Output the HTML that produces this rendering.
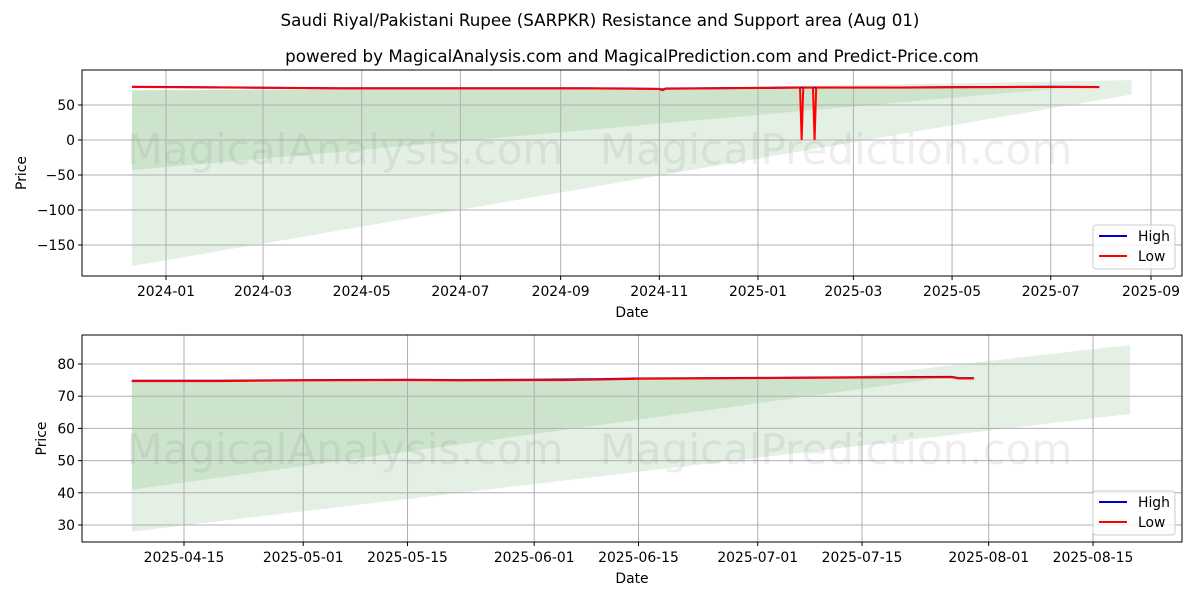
<!DOCTYPE html>
<html><head><meta charset="utf-8"><style>
body{margin:0;background:#fff;}
svg{display:block;font-family:"DejaVu Sans","Liberation Sans",sans-serif;}
</style></head><body>
<svg id="c" width="1200" height="600" xmlns="http://www.w3.org/2000/svg"></svg>
<script>
// ---- top chart data ----
const topDates=["2023-12-11","2024-01-15","2024-02-15","2024-03-15","2024-04-15","2024-05-15","2024-06-15","2024-07-15","2024-08-15","2024-09-15","2024-10-15","2024-11-01","2024-11-03","2024-11-05","2024-12-01","2025-01-01","2025-01-26","2025-01-27","2025-01-28","2025-01-29","2025-02-03","2025-02-04","2025-02-05","2025-02-06","2025-03-01","2025-04-01","2025-05-01","2025-06-01","2025-07-01","2025-07-31"];
const topHigh=[76,75.5,75,74.5,74,74,74,74,74,74,73.5,73,72,73.5,74,74.5,75,75,75,75,75,75,75,75,75,75,75.5,75.8,76,75.8];
const topLow=[75.8,75.3,74.8,74.3,73.8,73.8,73.8,73.8,73.8,73.8,73.3,72.8,71,73.3,73.8,74.3,74.8,74.8,0,74.8,74.8,74.8,0,74.8,74.8,74.8,75.3,75.6,75.8,75.6];
const topBandDates=["2023-12-11","2025-08-20"];
const topBandAUpper=[60,85.5];
const topBandALower=[-180,65];
const topBandBDates=["2023-12-11","2025-07-15"];
const topBandBUpper=[71,76];
const topBandBLower=[-43,75.5];
const topYTicks=[50,0,-50,-100,-150];
const topXTicks=["2024-01","2024-03","2024-05","2024-07","2024-09","2024-11","2025-01","2025-03","2025-05","2025-07","2025-09"];
// ---- bottom chart data ----
const botDates=["2025-04-08","2025-04-20","2025-05-01","2025-05-15","2025-05-22","2025-06-01","2025-06-05","2025-06-10","2025-06-15","2025-07-01","2025-07-15","2025-07-27","2025-07-28","2025-07-30"];
const botHigh=[74.8,74.8,75,75.1,75,75.1,75.2,75.3,75.5,75.7,75.9,76,75.6,75.6];
const botLow=[74.7,74.7,74.9,75,74.9,75,75,75.2,75.4,75.6,75.8,75.9,75.5,75.5];
const botBandDates=["2025-04-08","2025-08-20"];
const botBandAUpper=[50.6,85.9];
const botBandALower=[28,64.5];
const botBandBDates=["2025-04-08","2025-07-26"];
const botBandBUpper=[75,76];
const botBandBLower=[41,75.8];
const botYTicks=[80,70,60,50,40,30];
const botXTicks=["2025-04-15","2025-05-01","2025-05-15","2025-06-01","2025-06-15","2025-07-01","2025-07-15","2025-08-01","2025-08-15"];

const NS="http://www.w3.org/2000/svg";
const svg=document.getElementById('c');
function mk(tag,attrs,parent){const e=document.createElementNS(NS,tag);for(const k in attrs)e.setAttribute(k,attrs[k]);(parent||svg).appendChild(e);return e;}
function day(s){if(s.length===7)s+="-01";return Date.UTC(+s.slice(0,4),+s.slice(5,7)-1,+s.slice(8,10))/864e5;}

function txt(x,y,s,size,anchor,name,extra){const t=mk('text',Object.assign({x:x,y:y,'font-size':size,'text-anchor':anchor||'middle',fill:'#000'},extra||{}));t.textContent=s;


return t;}

function panel(o){
 const {L,R,T,B,d0,x0,ppd,v0,y0,ppu}=o;
 const X=d=>x0+(day(d)-day(d0))*ppd;
 const Y=v=>y0-(v-v0)*ppu;
 const g=mk('g',{});
 
 
 function band(ds,up,lo,col,nm){
  const pts=ds.map((d,i)=>X(d)+','+Y(up[i])).concat(ds.slice().reverse().map((d,i)=>X(d)+','+Y(lo[lo.length-1-i])));
  const p=mk('polygon',{points:pts.join(' '),fill:col},g);
  
  
 }
 band(o.bAd,o.bAu,o.bAl,'#e3f0e3','support-band-wide');
 band(o.bBd,o.bBu,o.bBl,'#cce4cc','support-band-narrow');
 o.xt.forEach(t=>{const x=X(t);
  const l=mk('line',{x1:x,x2:x,y1:T,y2:B,stroke:'#b0b0b0','stroke-width':1},g);
  
  
  mk('line',{x1:x,x2:x,y1:B,y2:B+4,stroke:'#000'},g);
  txt(x,B+20,t,13.9,'middle','x-tick-label');});
 o.yt.forEach(v=>{const y=Y(v);
  const l=mk('line',{x1:L,x2:R,y1:y,y2:y,stroke:'#b0b0b0','stroke-width':1},g);
  
  
  mk('line',{x1:L-4,x2:L,y1:y,y2:y,stroke:'#000'},g);
  txt(L-7,y+5,String(v).replace('-','−'),13.9,'end','y-tick-label');});
 function line(ds,vs,col,nm){const p=mk('polyline',{points:ds.map((d,i)=>X(d)+','+Y(vs[i])).join(' '),fill:'none',stroke:col,'stroke-width':2},g);
  
  }
 line(o.ld,o.hi,'#0000cc','high-line');
 line(o.ld,o.lo,'#ff0000','low-line');
 const f=mk('rect',{x:L,y:T,width:R-L,height:B-T,fill:'none',stroke:'#000','stroke-width':1},g);
 
 
 txt((L+R)/2,B+41,'Date',13.9,'middle','x-axis-title');
 txt(0,0,'Price',13.9,'middle','y-axis-title',{transform:`translate(${o.yl},${(T+B)/2}) rotate(-90)`});
 [[345,'MagicalAnalysis.com'],[836,'MagicalPrediction.com']].forEach(w=>txt(w[0],o.wy,w[1],42,'middle','watermark',{fill:'rgba(120,120,120,0.13)'}));
 const lg=mk('g',{},g);
 
 
 mk('rect',{x:R-89,y:B-51,width:82,height:44,rx:3,fill:'rgba(255,255,255,0.8)',stroke:'#ccc'},lg);
 mk('line',{x1:R-83,x2:R-55,y1:B-40,y2:B-40,stroke:'#0000cc','stroke-width':2},lg);
 mk('line',{x1:R-83,x2:R-55,y1:B-20,y2:B-20,stroke:'#ff0000','stroke-width':2},lg);
 txt(R-44,B-35,'High',13.9,'start','legend-entry-high');
 txt(R-44,B-15,'Low',13.9,'start','legend-entry-low');
}
txt(600,26,'Saudi Riyal/Pakistani Rupee (SARPKR) Resistance and Support area (Aug 01)',16.7,'middle','chart-title');
txt(632,62,'powered by MagicalAnalysis.com and MagicalPrediction.com and Predict-Price.com',16.7,'middle','chart-subtitle');
panel({name:'top-panel',L:82,R:1182,T:70,B:276,d0:'2024-01-01',x0:166,ppd:985/609,v0:0,y0:140,ppu:0.7,
 bAd:topBandDates,bAu:topBandAUpper,bAl:topBandALower,bBd:topBandBDates,bBu:topBandBUpper,bBl:topBandBLower,
 xt:topXTicks,yt:topYTicks,ld:topDates,hi:topHigh,lo:topLow,yl:26,wy:164});
panel({name:'bottom-panel',L:82,R:1182,T:335,B:542,d0:'2025-04-15',x0:184,ppd:909/122,v0:30,y0:525,ppu:161/50,
 bAd:botBandDates,bAu:botBandAUpper,bAl:botBandALower,bBd:botBandBDates,bBu:botBandBUpper,bBl:botBandBLower,
 xt:botXTicks,yt:botYTicks,ld:botDates,hi:botHigh,lo:botLow,yl:46,wy:464});
</script>
</body></html>
